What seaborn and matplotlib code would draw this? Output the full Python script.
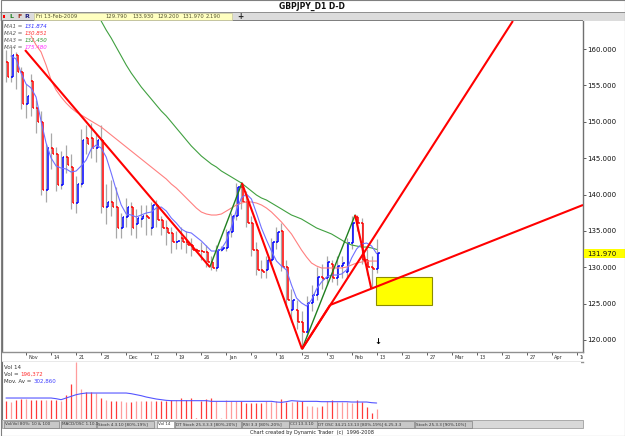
import matplotlib
matplotlib.use('Agg')

import matplotlib.pyplot as plt
import numpy as np
import pandas as pd
import seaborn as sns
from matplotlib.patches import Rectangle

# ------------------------------------------------------------
#     Data
# ------------------------------------------------------------

first_day = "2008-11-03"

opens = [158.2, 156.2, 159.2, 156.8, 152.5, 155.6, 151.9, 150.0, 140.6, 146.4,
         145.6, 141.3, 145.2, 143.8, 138.8, 141.5, 147.7, 147.8, 146.4, 147.5,
         138.3, 139.0, 138.3, 135.4, 136.9, 138.3, 135.9, 136.7, 137.1, 135.4,
         138.6, 136.5, 135.4, 134.7, 133.5, 134.0, 133.5, 133.0, 132.4, 132.3,
         132.1, 130.7, 129.9, 132.4, 132.6, 134.8, 137.0, 141.0, 139.0, 136.1,
         132.4, 129.6, 129.6, 131.0, 133.5, 135.0, 130.0, 124.1, 124.1, 122.5,
         121.1, 125.1, 126.2, 128.7, 128.5, 130.5, 128.5, 130.2, 129.3, 133.3,
         136.9, 136.1, 131.0, 130.0, 129.79]
highs = [159.9, 160.1, 159.6, 157.5, 155.2, 156.5, 153.0, 151.5, 147.0, 148.5,
         146.5, 146.0, 146.8, 145.5, 142.5, 149.0, 149.5, 149.8, 148.5, 149.5,
         141.5, 142.0, 141.0, 137.5, 139.5, 139.0, 138.0, 138.5, 138.5, 139.0,
         139.2, 137.0, 136.5, 135.5, 135.0, 135.5, 135.0, 134.0, 132.6, 133.5,
         133.0, 131.5, 133.0, 132.9, 135.2, 137.5, 141.6, 141.7, 140.5, 137.0,
         133.5, 131.0, 131.5, 134.0, 135.5, 136.1, 131.0, 127.0, 125.5, 124.0,
         126.0, 127.5, 130.0, 130.5, 131.5, 131.0, 131.5, 131.5, 134.0, 137.0,
         137.2, 136.8, 132.5, 131.5, 133.93]
lows = [155.5, 155.5, 154.5, 151.8, 150.5, 150.8, 148.5, 140.0, 139.0, 143.5,
        140.5, 140.8, 143.0, 138.0, 137.5, 141.0, 145.5, 145.0, 144.5, 137.5,
        136.0, 137.0, 134.0, 134.0, 135.5, 134.5, 134.0, 135.5, 134.5, 134.5,
        135.5, 134.5, 133.0, 132.0, 132.5, 132.5, 132.0, 131.5, 132.2, 131.0,
        130.0, 129.6, 129.5, 132.2, 132.3, 134.2, 136.5, 138.0, 135.5, 131.5,
        129.0, 128.5, 128.5, 130.5, 132.5, 129.5, 124.5, 122.5, 121.5, 118.8,
        120.5, 124.0, 125.5, 127.0, 127.5, 128.0, 127.5, 128.5, 128.5, 132.5,
        135.0, 130.5, 129.0, 127.2, 129.2]
closes = [156.2, 159.2, 156.8, 152.5, 153.6, 151.9, 150.0, 140.6, 146.4, 145.6,
          141.3, 145.2, 144.0, 138.8, 141.5, 147.5, 147.0, 146.4, 147.5, 138.3,
          139.0, 138.3, 135.4, 136.9, 138.3, 135.4, 136.8, 137.1, 136.8, 138.6,
          136.5, 135.4, 134.7, 133.5, 133.6, 133.5, 133.1, 132.4, 132.3, 132.1,
          130.7, 129.9, 132.4, 132.6, 134.8, 137.0, 141.0, 139.0, 136.1, 132.4,
          129.6, 129.4, 131.0, 133.5, 134.8, 130.0, 125.5, 125.5, 122.5, 121.1,
          125.1, 126.2, 128.7, 128.4, 130.7, 128.5, 130.2, 130.6, 133.3, 136.1,
          136.1, 131.0, 130.0, 129.8, 131.97]

# moving averages, each starting at the bar where it appears on the chart
ma1_start = 1
ma1 = [159.04, 158.63, 156.70, 155.19, 154.64, 153.40, 150.10, 147.08, 145.02,
       143.92, 143.64, 143.51, 143.09, 143.23, 143.92, 144.74, 146.25, 146.80, 146.39,
       145.15, 142.96, 140.62, 138.56, 137.32, 137.18, 136.91, 137.18, 137.46, 137.59,
       138.14, 138.28, 137.73, 136.77, 136.08, 135.26, 134.85, 134.71, 134.16, 133.61,
       132.92, 132.23, 132.23, 132.51, 133.61, 135.53, 137.87, 139.52, 140.07, 139.38,
       137.46, 135.40, 133.75, 132.23, 130.86, 130.17, 129.62, 127.56, 125.77, 125.09,
       124.67, 125.50, 127.01, 127.97, 128.66, 128.93, 128.93, 129.07, 129.62, 131.27,
       132.51, 133.20, 133.33, 132.92, 131.87]
ma2_start = 5
ma2 = [161.79, 160.55, 159.59, 157.80, 155.74, 154.36, 153.40, 152.58, 151.89, 151.34,
       150.93, 150.52, 150.10, 149.69, 149.28, 148.73, 148.18, 147.63, 147.08, 146.53,
       145.98, 145.43, 144.88, 144.33, 143.78, 143.23, 142.68, 142.13, 141.44, 140.89,
       140.21, 139.52, 138.83, 138.14, 137.59, 137.32, 137.18, 137.18, 137.32, 137.73,
       138.14, 138.56, 138.83, 138.97, 138.97, 138.83, 138.56, 138.14, 137.59, 136.91,
       136.22, 135.40, 134.57, 133.47, 132.37, 131.41, 130.58, 130.17, 129.90, 129.90,
       129.90, 129.90, 129.90, 130.03, 130.31, 130.58, 130.72, 130.85, 130.85, 130.85]
ma3_start = 18
ma3 = [165.10, 163.85, 162.61, 161.51, 160.27, 159.04, 157.80, 156.70, 155.74, 154.78,
       153.95, 153.13, 152.30, 151.48, 150.79, 149.97, 149.14, 148.32, 147.49, 146.67,
       145.98, 145.29, 144.74, 144.19, 143.78, 143.23, 142.82, 142.41, 141.99, 141.58,
       141.03, 140.48, 139.93, 139.52, 139.24, 138.83, 138.42, 138.01, 137.59, 137.18,
       136.91, 136.63, 136.22, 135.81, 135.40, 135.12, 134.85, 134.57, 134.16, 133.75,
       133.33, 133.06, 132.92, 132.78, 132.78, 132.65, 132.45]

volumes = [334430, 315500, 353360, 384910, 384910, 353360, 353360, 353360, 365980, 353360,
           353360, 347050, 460630, 662550, 1075000, 574210, 511110, 511110, 492180, 397530,
           365980, 347050, 347050, 347050, 315500, 315500, 334430, 334430, 334430, 334430,
           334430, 334430, 334430, 365980, 365980, 397530, 365980, 397530, 18930, 334430,
           378600, 397530, 334430, 18930, 365980, 334430, 334430, 334430, 302880, 302880,
           302880, 302880, 334430, 315500, 334430, 378600, 315500, 315500, 334430, 334430,
           239780, 239780, 220850, 239780, 334430, 365980, 315500, 315500, 315500, 302880,
           353360, 315500, 227160, 113580, 196372]
vol_avg = [397530, 397530, 397530, 397530, 397530, 397530, 397530, 397530, 397530, 397530,
           384910, 365980, 397530, 429080, 460630, 479560, 492180, 492180, 492180, 492180,
           492180, 492180, 492180, 492180, 492180, 479560, 460630, 441700, 416460, 397530,
           378600, 365980, 353360, 347050, 347050, 347050, 347050, 347050, 347050, 347050,
           347050, 334430, 334430, 334430, 334430, 334430, 334430, 334430, 334430, 334430,
           334430, 334430, 334430, 334430, 321810, 315500, 328120, 347050, 340740, 334430,
           334430, 334430, 334430, 328120, 328120, 328120, 328120, 328120, 328120, 321810,
           321810, 321810, 321810, 309190, 302860]

# trend lines drawn on the chart: (bar index, price) end points
red_line_x = [[3.8, 40.7], [47.1, 59.1], [69.7, 72.9], [59.1, 101.2], [59.1, 64.7], [64.7, 115.2]]
red_line_y = [[159.86, 130.03], [141.58, 118.76], [137.18, 127.15], [118.76, 163.85],
              [118.76, 124.81], [124.81, 138.56]]
green_line_x = [[40.7, 47.1], [59.1, 69.7]]
green_line_y = [[130.03, 141.58], [118.76, 137.18]]

target_box_x = [73.9, 85.0]
target_box_y = [124.81, 128.66]
arrow_at = (74.2, 119.8)

date_labels = ["Nov", "14", "21", "28", "Dec", "12", "19", "26", "Jan", "9", "16", "23",
               "30", "Feb", "13", "20", "27", "Mar", "13", "20", "27", "Apr", "10"]
price_ticks = [120, 125, 130, 135, 140, 145, 150, 155, 160]
last_price = 131.970

ma_labels = ["MA1 = ", "MA2 = ", "MA3 = ", "MA4 = "]
ma_values = ["131.874", "130.851", "132.450", "175.480"]
ma_colors = ["#3030ff", "#ff3030", "#309030", "#ff30ff"]

toolbar_items = ["Fri 13-Feb-2009", "129.790", "133.930", "129.200", "131.970", "2.190"]
tab_names = ["Vol/Vol 80%: 10 & 100", "MACD/OSC 1.10.1", "Stoch 4.3.10 [80%-19%]", "Vol 14",
             "DT Stoch 25.3.3.3 [80%-20%]", "RSI 3.3 [80%-20%]", "CCI 13.3.10",
             "DT OSC 34.21.13.13 [80%-19%] 6.25.3.3", "Stoch 25.3.3 [90%-10%]"]

# ------------------------------------------------------------
#     Setup
# ------------------------------------------------------------

sns.set_style("white")
plt.rcParams['font.family'] = ['DejaVu Sans']

W, H = 625, 436
fig = plt.figure(figsize=(W / 100, H / 100), dpi=100)
fig.patch.set_facecolor("white")

def axes_px(x0, y0, x1, y1):
    return fig.add_axes([x0 / W, 1 - y1 / H, (x1 - x0) / W, (y1 - y0) / H])

def ftext(x, y, s, **kw):
    return fig.text(x / W, 1 - y / H, s, **kw)

def frect(x0, y0, x1, y1, **kw):
    fig.patches.append(Rectangle((x0 / W, 1 - y1 / H), (x1 - x0) / W, (y1 - y0) / H,
                                 transform=fig.transFigure, **kw))

XMIN, XMAX = -0.8, 115.2
YMIN, YMAX = 118.35, 163.85

n = len(closes)
idx = np.arange(n)
o = np.array(opens)
c = np.array(closes)
up = c >= o
body_col = np.where(up, "#0000ff", "#ff0000")

# ------------------------------------------------------------
#     Price panel
# ------------------------------------------------------------

ax = axes_px(2, 21, 583, 352)
ax.set_xlim(XMIN, XMAX)
ax.set_ylim(YMIN, YMAX)

ax.vlines(idx, lows, highs, color="#a8a8a8", lw=0.9, zorder=2)
ax.vlines(idx + 0.3, o, c, colors=body_col, lw=1.1, zorder=3)
ax.hlines(o, idx - 0.05, idx + 0.3, colors=body_col, lw=1.1, zorder=3)
ax.hlines(c, idx + 0.3, idx + 0.65, colors=body_col, lw=1.1, zorder=3)

ma_df = pd.DataFrame({"bar": idx})
ma_df["ma1"] = pd.Series(ma1, index=range(ma1_start, ma1_start + len(ma1)))
ma_df["ma2"] = pd.Series(ma2, index=range(ma2_start, ma2_start + len(ma2)))
ma_df["ma3"] = pd.Series(ma3, index=range(ma3_start, ma3_start + len(ma3)))
for col, colr in [("ma3", "#40a040"), ("ma2", "#ff8080"), ("ma1", "#7070ff")]:
    sns.lineplot(data=ma_df, x="bar", y=col, ax=ax, color=colr, lw=0.8, zorder=4)

for xs, ys in zip(green_line_x, green_line_y):
    ax.plot(xs, ys, color="#208020", lw=1.0, zorder=5)
for xs, ys in zip(red_line_x, red_line_y):
    ax.plot(xs, ys, color="#ff0000", lw=1.5, zorder=6, solid_capstyle="butt")

ax.add_patch(Rectangle((target_box_x[0], target_box_y[0]),
                       target_box_x[1] - target_box_x[0], target_box_y[1] - target_box_y[0],
                       facecolor="#ffff00", edgecolor="#8c8c00", lw=0.8, zorder=5))
ax.text(arrow_at[0], arrow_at[1], "↓", fontsize=6, fontweight="bold", ha="center",
        va="center", color="black")

ax.yaxis.tick_right()
ax.set_yticks(price_ticks)
ax.set_yticklabels([f"{v:.3f}" for v in price_ticks], fontsize=5)
ax.tick_params(axis="y", length=2, width=0.6, pad=1, colors="#444444", labelcolor="#111111")
ax.set_xticks([])
ax.set_xlabel("")
ax.set_ylabel("")
for s in ["top", "bottom"]:
    ax.spines[s].set_visible(False)
for s in ["left", "right"]:
    ax.spines[s].set_color("#707070")
    ax.spines[s].set_linewidth(1.0)

# MA legend
for k, (lab, val, colr) in enumerate(zip(ma_labels, ma_values, ma_colors)):
    t = ax.text(0.004, 0.99 - k * 0.021, lab, transform=ax.transAxes, fontsize=4,
                style="italic", color="#555555", va="top", ha="left")
    ax.annotate(val, xycoords=t, xy=(1, 0), va="bottom", fontsize=4, style="italic",
                color=colr)

# last price box on the axis
frect(584, 249, 625, 258, facecolor="#ffff00", edgecolor="none")
ftext(587, 253.5, f"{last_price:.3f}", fontsize=5, color="#111111", va="center")

# ------------------------------------------------------------
#     Date strip
# ------------------------------------------------------------

axd = axes_px(2, 352, 583, 362)
axd.set_xlim(XMIN, XMAX)
axd.set_ylim(0, 1)
days = pd.bdate_range(first_day, periods=120)
fri_pos = np.where(days.weekday == 4)[0][:len(date_labels)]
axd.set_xticks(fri_pos)
axd.set_xticklabels([])
axd.set_yticks([])
axd.tick_params(axis="x", top=True, bottom=False, direction="in", length=2.5, width=0.6,
                colors="#444444")
for p, lab in zip(fri_pos, date_labels):
    axd.text(p + 0.5, 0.42, lab, fontsize=3.6, color="#333333", va="center", ha="left",
             clip_on=True)
for s in ["left", "right"]:
    axd.spines[s].set_visible(False)
for s in ["top", "bottom"]:
    axd.spines[s].set_color("#909090")
    axd.spines[s].set_linestyle((0, (1, 1)))
    axd.spines[s].set_linewidth(1.0)

# ------------------------------------------------------------
#     Volume panel
# ------------------------------------------------------------

axv = axes_px(2, 362, 581, 419)
axv.set_xlim(XMIN, XMAX - 0.4)
axv.set_ylim(0, 1080000)
vol_col = np.where(up, "#ff9c9c", "#ff3a3a")
axv.vlines(idx, 0, volumes, colors=vol_col, lw=0.9)
vol_df = pd.DataFrame({"bar": idx, "avg": vol_avg})
sns.lineplot(data=vol_df, x="bar", y="avg", ax=axv, color="#5555ff", lw=0.8)
axv.set_xticks([])
axv.set_yticks([])
axv.set_xlabel("")
axv.set_ylabel("")
for s in ["top", "right", "bottom"]:
    axv.spines[s].set_visible(False)
axv.spines["left"].set_color("#707070")

axv.text(0.004, 0.95, "Vol 14", transform=axv.transAxes, fontsize=4, color="#333333",
         va="top")
t1 = axv.text(0.004, 0.83, "Vol = ", transform=axv.transAxes, fontsize=4, color="#333333",
              va="top")
axv.annotate("196,372", xycoords=t1, xy=(1, 0), va="bottom", fontsize=4, color="#ff3030")
t2 = axv.text(0.004, 0.71, "Mov. Av = ", transform=axv.transAxes, fontsize=4,
              color="#333333", va="top")
axv.annotate("302,860", xycoords=t2, xy=(1, 0), va="bottom", fontsize=4, color="#4040ff")

# ------------------------------------------------------------
#     Window chrome: title, toolbar, tabs, footer
# ------------------------------------------------------------

ftext(312, 6, "GBPJPY_D1 D-D", fontsize=5.5, fontweight="bold", ha="center", va="center",
      color="#111111")
frect(0, 12, 625, 13, facecolor="#909090", edgecolor="none")
frect(0, 13, 625, 21, facecolor="#dcdcdc", edgecolor="none")
frect(2, 20.5, 583, 21.5, facecolor="#808080", edgecolor="none")
frect(3, 15, 5.5, 18, facecolor="#ff0000", edgecolor="none")
ftext(9, 16.8, "L", fontsize=4.5, fontweight="bold", color="#208020", va="center")
ftext(17, 16.8, "F", fontsize=4.5, fontweight="bold", color="#a03020", va="center")
ftext(24, 16.8, "R", fontsize=4.5, fontweight="bold", color="#202080", va="center")
frect(34, 13.5, 232, 20.5, facecolor="#ffffc0", edgecolor="#c8c8a0", lw=0.5)
for xp, s in zip([36, 105, 132, 157, 182, 206], toolbar_items):
    ftext(xp, 17, s, fontsize=3.8, color="#555533", va="center")
ftext(240, 16.8, "+", fontsize=5.5, fontweight="bold", color="#222222", va="center",
      ha="center")

frect(2, 420, 583, 428, facecolor="#d8d8d8", edgecolor="#909090", lw=0.5)
tab_x = [5, 62, 98, 158, 176, 243, 290, 318, 416]
tab_w = [53, 33, 55, 15, 64, 45, 27, 95, 55]
for xp, wd, s in zip(tab_x, tab_w, tab_names):
    fc = "white" if s == "Vol 14" else "#c8c8c8"
    frect(xp - 1, 420.5, xp + wd + 1, 427.5, facecolor=fc, edgecolor="#707070", lw=0.4)
    ftext(xp, 424.2, s, fontsize=3.0, color="#333333", va="center")

ftext(312, 432, "Chart created by Dynamic Trader  (c)  1996-2008", fontsize=3.6,
      color="#222222", ha="center", va="center")

frect(0.5, 0.5, 624.5, 435.5, facecolor="none", edgecolor="#808080", lw=0.8)

fig.savefig("out.png", dpi=100)
